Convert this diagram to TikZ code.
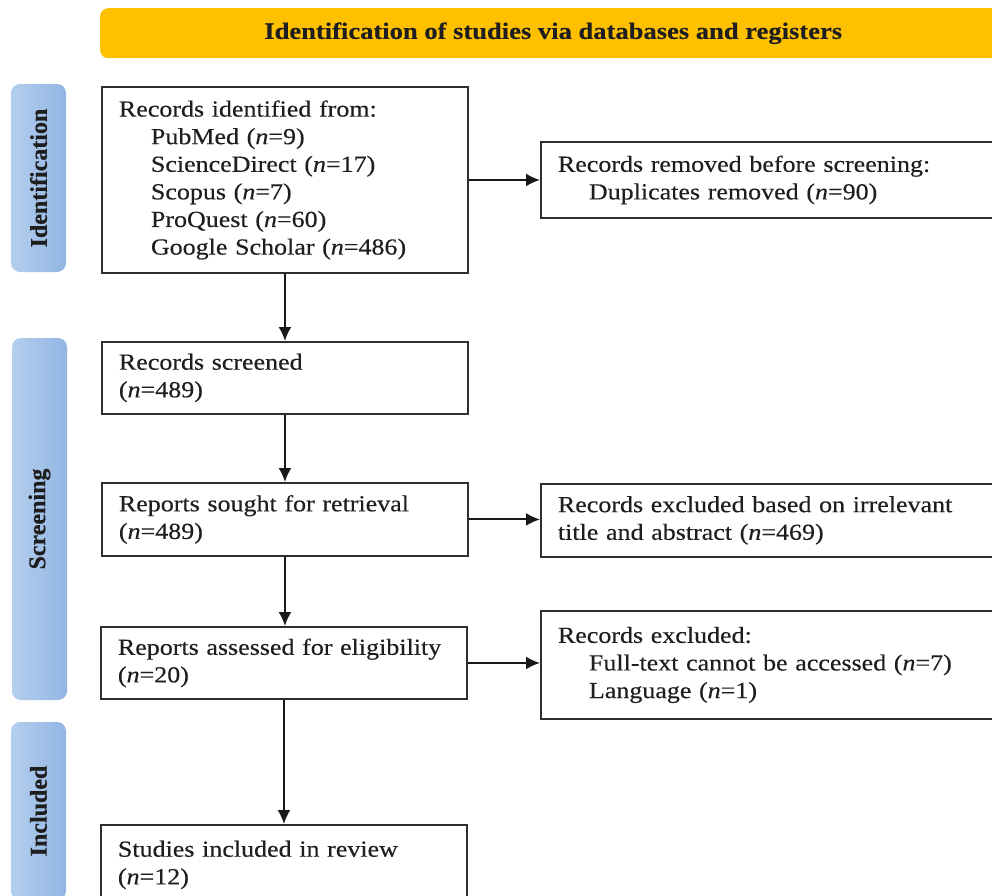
\documentclass[tikz,border=0pt]{standalone}
\usepackage{fontspec}
\setmainfont{Liberation Serif}[FakeStretch=1.13,FakeBold=0.3]
\newfontfamily\sidefont{Liberation Serif}[FakeBold=0.4]
\usetikzlibrary{arrows.meta}
\definecolor{gold}{HTML}{FFC000}
\definecolor{sideL}{HTML}{B4CFEE}
\definecolor{sideD}{HTML}{92B5E3}
\definecolor{ink}{HTML}{1E1E1E}
\newcommand{\nn}{\textit{n}}
\newcommand{\ind}{\hspace*{32pt}}
\begin{document}
\begin{tikzpicture}[x=1pt,y=-1pt,
  box/.style={draw=black!82, line width=1.9pt, rectangle, anchor=north west,
    align=left, inner xsep=17pt, inner ysep=0pt, text=ink,
    font=\fontsize{23}{27.6}\selectfont},
  mainbox/.style={box, minimum width=366pt, text width=332pt},
  rightbox/.style={box, minimum width=470pt, text width=436pt},
  arr/.style={-{Latex[length=14pt,width=13pt]}, line width=2pt, draw=black!90},
  side/.style={rounded corners=9pt, left color=sideL, right color=sideD,
    minimum width=55pt, inner sep=0pt},
  sidetext/.style={rotate=90, text=ink, font=\sidefont\bfseries\fontsize{24}{28}\selectfont},
  banner/.style={fill=gold, rounded corners=8pt, anchor=north west, inner sep=0pt,
    minimum width=906pt, minimum height=50pt, text=ink,
    font=\bfseries\fontsize{23.5}{28}\selectfont}
]
\useasboundingbox (0,0) rectangle (992,895);
\clip (0,0) rectangle (992,895);
\fill[white] (0,0) rectangle (992,895);

\node[banner] (title) at (100,8) {Identification of studies via databases and registers};

\node[side, minimum height=188pt] (sid) at (38.5,178) {};
\node[sidetext] (tid) at (sid.center) {Identification};
\node[side, minimum height=362pt] (sscr) at (39.5,519) {};
\node[sidetext] (tscr) at (sscr.center) {Screening};
\node[side, minimum height=178pt] (sinc) at (38.5,811) {};
\node[sidetext] (tinc) at (sinc.center) {Included};

\node[mainbox, minimum height=186pt] (id) at (101,86) {Records identified from:\\
\ind PubMed (\nn=9)\\
\ind ScienceDirect (\nn=17)\\
\ind Scopus (\nn=7)\\
\ind ProQuest (\nn=60)\\
\ind Google Scholar (\nn=486)};

\node[rightbox, minimum height=76pt] (rem) at (540,141) {Records removed before screening:\\
\hspace*{31pt}Duplicates removed (\nn=90)};

\node[mainbox, minimum height=72pt] (scr) at (101,341) {Records screened\\(\nn=489)};
\node[mainbox, minimum height=73pt] (sought) at (101,482) {Reports sought for retrieval\\(\nn=489)};
\node[rightbox, minimum height=73pt] (exc1) at (540,483) {Records excluded based on irrelevant\\title and abstract (\nn=469)};
\node[mainbox, minimum height=72pt] (assess) at (100,626) {Reports assessed for eligibility\\(\nn=20)};
\node[rightbox, minimum height=108pt] (exc2) at (540,610) {Records excluded:\\
\hspace*{31pt}Full-text cannot be accessed (\nn=7)\\
\hspace*{31pt}Language (\nn=1)};
\node[mainbox, minimum height=80pt] (incl) at (100,824) {Studies included in review\\(\nn=12)};

\draw[arr] (id.east) -- (id.east -| rem.west);
\draw[arr] (id.south) -- (id.south |- scr.north);
\draw[arr] (scr.south) -- (scr.south |- sought.north);
\draw[arr] (sought.east) -- (sought.east -| exc1.west);
\draw[arr] (sought.south) -- (sought.south |- assess.north);
\draw[arr] (assess.east) -- (assess.east -| exc2.west);
\draw[arr] (assess.south) -- (assess.south |- incl.north);
\end{tikzpicture}
\end{document}
